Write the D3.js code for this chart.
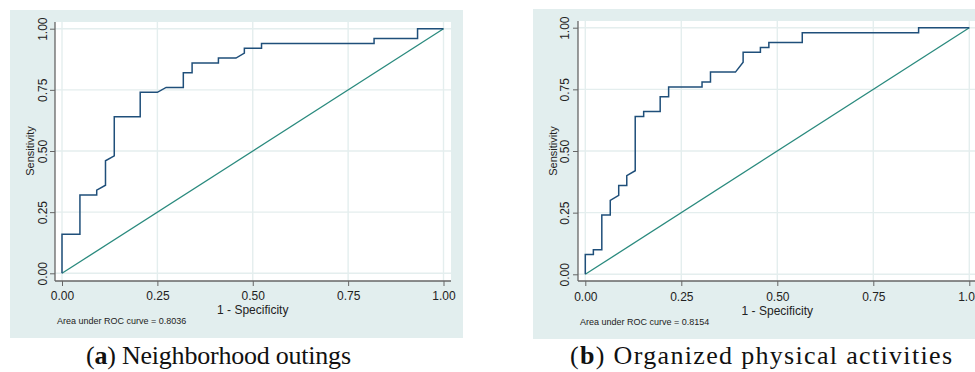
<!DOCTYPE html>
<html>
<head>
<meta charset="utf-8">
<title>ROC curves</title>
<script src="https://cdnjs.cloudflare.com/ajax/libs/d3/7.8.5/d3.min.js"></script>
<style>
  html, body { margin: 0; padding: 0; background: white; }
  svg { display: block; font-family: 'Liberation Sans', Arial, sans-serif; }
</style>
</head>
<body>
<svg id="chart" width="975" height="372"></svg>
<script>
  // ROC curve vertices (1 - specificity, sensitivity)
  const fprA = [0, 0, 0.047, 0.047, 0.091, 0.091, 0.114, 0.114, 0.137, 0.137, 0.205, 0.205, 0.25, 0.273, 0.318, 0.318,
                0.341, 0.341, 0.41, 0.41, 0.456, 0.478, 0.478, 0.523, 0.523, 0.818, 0.818, 0.932, 0.932, 1];
  const tprA = [0, 0.16, 0.16, 0.32, 0.32, 0.34, 0.36, 0.46, 0.48, 0.64, 0.64, 0.74, 0.74, 0.76, 0.76, 0.82,
                0.82, 0.86, 0.86, 0.88, 0.88, 0.90, 0.92, 0.92, 0.94, 0.94, 0.96, 0.96, 1, 1];

  const fprB = [0, 0, 0.021, 0.021, 0.043, 0.043, 0.065, 0.065, 0.087, 0.087, 0.108, 0.108, 0.13, 0.13, 0.152, 0.152,
                0.195, 0.195, 0.217, 0.217, 0.304, 0.304, 0.326, 0.326, 0.391, 0.411, 0.411, 0.456, 0.456, 0.478, 0.478,
                0.565, 0.565, 0.868, 0.868, 1];
  const tprB = [0, 0.08, 0.08, 0.10, 0.10, 0.24, 0.24, 0.30, 0.32, 0.36, 0.36, 0.40, 0.42, 0.64, 0.64, 0.66,
                0.66, 0.72, 0.72, 0.76, 0.76, 0.78, 0.78, 0.82, 0.82, 0.86, 0.90, 0.90, 0.92, 0.92, 0.94,
                0.94, 0.98, 0.98, 1, 1];

  const tickValues = [0, 0.25, 0.5, 0.75, 1];
  const aucLabels = ["Area under ROC curve = 0.8036", "Area under ROC curve = 0.8154"];
  const captionLetters = ["a", "b"];
  const captionTexts = [" Neighborhood outings", " Organized physical activities"];

  const svg = d3.select("#chart");

  const panels = [
    { fpr: fprA, tpr: tprA, bg: [10, 10, 453, 328], plot: [55, 22, 451, 281], xr: [62, 443.5], yr: [273.3, 28.7],
      ytx: 42.7, ylx: 30, xty: 296, xlty: 310, auc: [57, 324], cap: [86, 364, 265] },
    { fpr: fprB, tpr: tprB, bg: [533, 9, 460, 330], plot: [578, 21, 990, 281], xr: [585.3, 969.3], yr: [274.3, 27.7],
      ytx: 565, ylx: 553.3, xty: 297, xlty: 311, auc: [580, 325], cap: [570, 364, 382] }
  ];

  panels.forEach((p, i) => {
    const g = svg.append("g");
    const [px0, py0, px1, py1] = p.plot;
    const x = d3.scaleLinear().domain([0, 1]).range(p.xr);
    const y = d3.scaleLinear().domain([0, 1]).range(p.yr);

    // outer graph region
    g.append("rect")
      .attr("x", p.bg[0]).attr("y", p.bg[1])
      .attr("width", p.bg[2]).attr("height", p.bg[3])
      .attr("fill", "#e2eeee");

    // plot region
    g.append("rect")
      .attr("x", px0).attr("y", py0)
      .attr("width", px1 - px0).attr("height", py1 - py0)
      .attr("fill", "white");

    // grid
    g.selectAll(".gx").data(tickValues).enter().append("line")
      .attr("x1", d => x(d)).attr("x2", d => x(d))
      .attr("y1", py0).attr("y2", py1)
      .attr("stroke", "#e4eeee").attr("stroke-width", 1.4);
    g.selectAll(".gy").data(tickValues).enter().append("line")
      .attr("y1", d => y(d)).attr("y2", d => y(d))
      .attr("x1", px0).attr("x2", px1)
      .attr("stroke", "#e4eeee").attr("stroke-width", 1.4);

    // y axis
    const yAxis = g.append("g")
      .attr("transform", `translate(${px0},0)`)
      .call(d3.axisLeft(y).tickValues(tickValues).tickFormat(d3.format(".2f")).tickSize(5));
    yAxis.select(".domain").remove();
    yAxis.selectAll(".tick line").attr("stroke", "#666");
    yAxis.selectAll(".tick text")
      .attr("transform", "rotate(-90)")
      .attr("x", 0).attr("y", p.ytx - px0).attr("dy", "0.35em")
      .attr("text-anchor", "middle")
      .attr("font-size", 12).attr("fill", "#222")
      .attr("font-family", "'Liberation Sans', Arial, sans-serif");

    // x axis
    const xAxis = g.append("g")
      .attr("transform", `translate(0,${py1})`)
      .call(d3.axisBottom(x).tickValues(tickValues).tickFormat(d3.format(".2f")).tickSize(5));
    xAxis.select(".domain").remove();
    xAxis.selectAll(".tick line").attr("stroke", "#666");
    xAxis.selectAll(".tick text")
      .attr("y", p.xty - py1).attr("dy", "0.35em")
      .attr("font-size", 12).attr("fill", "#222")
      .attr("font-family", "'Liberation Sans', Arial, sans-serif");

    // axis lines
    g.append("line").attr("x1", px0).attr("x2", px0).attr("y1", py0).attr("y2", py1)
      .attr("stroke", "#666").attr("stroke-width", 1.3);
    g.append("line").attr("x1", px0).attr("x2", px1).attr("y1", py1).attr("y2", py1)
      .attr("stroke", "#666").attr("stroke-width", 1.3);

    // reference line
    g.append("line")
      .attr("x1", x(0)).attr("y1", y(0)).attr("x2", x(1)).attr("y2", y(1))
      .attr("stroke", "#2a8a7e").attr("stroke-width", 1.3);

    // ROC curve
    const pts = p.fpr.map((v, k) => [v, p.tpr[k]]);
    g.append("path")
      .datum(pts)
      .attr("d", d3.line().x(d => x(d[0])).y(d => y(d[1])))
      .attr("fill", "none")
      .attr("stroke", "#1f4f7a").attr("stroke-width", 1.5);

    // axis titles
    g.append("text")
      .attr("transform", `translate(${p.ylx},${(p.yr[0] + p.yr[1]) / 2}) rotate(-90)`)
      .attr("text-anchor", "middle").attr("dy", "0.35em")
      .attr("font-size", 11).attr("fill", "#222")
      .text("Sensitivity");
    g.append("text")
      .attr("x", (p.xr[0] + p.xr[1]) / 2).attr("y", p.xlty).attr("dy", "0.35em")
      .attr("text-anchor", "middle")
      .attr("font-size", 12).attr("fill", "#222")
      .text("1 - Specificity");

    g.append("text")
      .attr("x", p.auc[0]).attr("y", p.auc[1])
      .attr("font-size", 9).attr("fill", "#222")
      .text(aucLabels[i]);

    // caption
    const cap = svg.append("text")
      .attr("x", p.cap[0]).attr("y", p.cap[1])
      .attr("font-family", "'Liberation Serif', 'DejaVu Serif', serif")
      .attr("font-size", 26).attr("fill", "#111")
      .attr("textLength", p.cap[2]).attr("lengthAdjust", "spacing");
    cap.append("tspan").text("(");
    cap.append("tspan").attr("font-weight", "bold").text(captionLetters[i]);
    cap.append("tspan").text(")" + captionTexts[i]);
  });
</script>
</body>
</html>
